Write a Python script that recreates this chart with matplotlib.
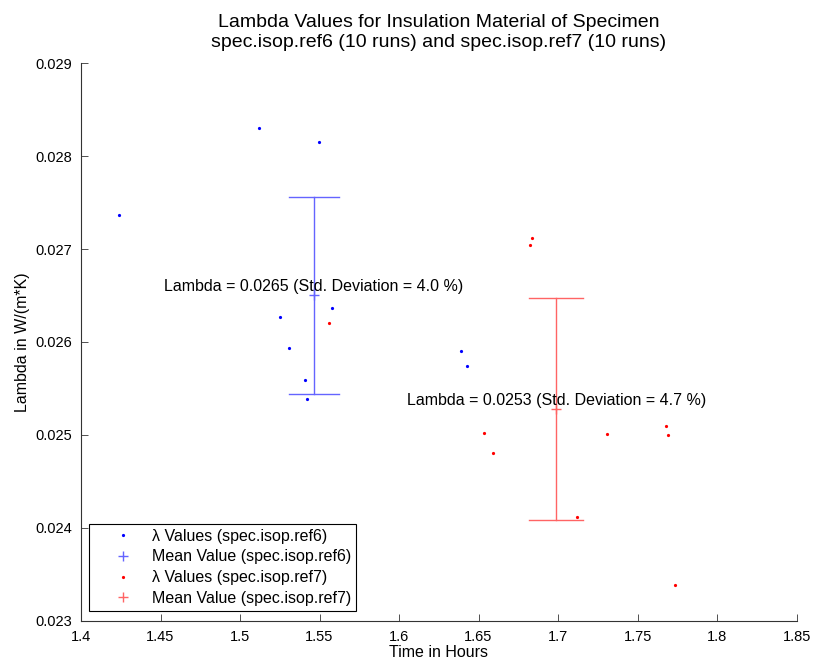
import numpy as np
import matplotlib
matplotlib.use("Agg")
import matplotlib.pyplot as plt

plt.rcParams['font.family'] = ['Liberation Sans', 'DejaVu Sans']

# lambda measurements, time in hours and lambda in W/(m*K)
time_ref6 = [1.4239, 1.5119, 1.5497, 1.5253, 1.5310, 1.5407, 1.5423, 1.5581, 1.6392, 1.6430]
lam_ref6 = [0.027364, 0.028307, 0.028150, 0.026272, 0.025939, 0.025591, 0.025387, 0.026369, 0.025903, 0.025738]

time_ref7 = [1.6838, 1.6826, 1.5558, 1.6533, 1.6591, 1.7308, 1.7679, 1.7692, 1.7121, 1.7738]
lam_ref7 = [0.027116, 0.027044, 0.026208, 0.025024, 0.024802, 0.025010, 0.025093, 0.024999, 0.024113, 0.023381]

names = ['spec.isop.ref6', 'spec.isop.ref7']
dot_colors = ['#0000ff', '#ff0000']
mean_colors = ['#6464ff', '#ff6464']

xticks = [1.4, 1.45, 1.5, 1.55, 1.6, 1.65, 1.7, 1.75, 1.8, 1.85]
yticks = [0.023, 0.024, 0.025, 0.026, 0.027, 0.028, 0.029]

fig = plt.figure(figsize=(8.13, 6.61), dpi=100)
ax = fig.add_axes([81 / 813, 1 - 620.7 / 661, (796.6 - 81) / 813, (620.7 - 63.3) / 661])

series = [(time_ref6, lam_ref6), (time_ref7, lam_ref7)]
for (t, lam), name, dc, mc in zip(series, names, dot_colors, mean_colors):
    t = np.array(t)
    lam = np.array(lam)
    mx = t.mean()
    my = lam.mean()
    sd = lam.std(ddof=1)
    ax.plot(t, lam, 'o', color=dc, markersize=2.3, markeredgewidth=0,
            linestyle='none', label='\u03bb Values (%s)' % name)
    ax.plot([mx], [my], '+', color=mc, markersize=7, markeredgewidth=1.0,
            linestyle='none', label='Mean Value (%s)' % name)
    # error bar, cap width like matlab's errorbar
    tee = mx / 100
    ax.plot([mx, mx], [my - sd, my + sd], color=mc, lw=1.0)
    ax.plot([mx - tee, mx + tee], [my + sd, my + sd], color=mc, lw=1.0)
    ax.plot([mx - tee, mx + tee], [my - sd, my - sd], color=mc, lw=1.0)
    ax.annotate('Lambda = %.4f (Std. Deviation = %.1f %%)' % (my, sd / my * 100),
                xy=(mx, my), xytext=(0, 6.2), textcoords='offset points',
                ha='center', va='center', fontsize=11.5)

ax.set_xlim(1.4, 1.85)
ax.set_ylim(0.023, 0.029)
ax.set_xticks(xticks)
ax.set_xticklabels(['%g' % v for v in xticks])
ax.set_yticks(yticks)
ax.set_yticklabels(['%g' % v for v in yticks])
ax.tick_params(direction='in', length=5, width=0.6, labelsize=10.5, pad=6.6, color='#333333')
for side in ['top', 'right']:
    ax.spines[side].set_visible(False)
for side in ['left', 'bottom']:
    ax.spines[side].set_linewidth(0.8)
    ax.spines[side].set_color('#333333')

ax.set_title('Lambda Values for Insulation Material of Specimen\n'
             'spec.isop.ref6 (10 runs) and spec.isop.ref7 (10 runs)',
             fontsize=14, pad=12, linespacing=1.2)
ax.set_xlabel('Time in Hours', fontsize=11.5, labelpad=1)
ax.set_ylabel('Lambda in W/(m*K)', fontsize=11.5, labelpad=4)

leg = ax.legend(loc='lower left', bbox_to_anchor=(0.0108, 0.0174), borderaxespad=0,
                fontsize=11.5, fancybox=False, edgecolor='black', framealpha=1,
                handlelength=3.65, handletextpad=0, labelspacing=0.36, borderpad=0.32)
leg.get_frame().set_linewidth(0.8)

fig.savefig('out.png', dpi=100)
